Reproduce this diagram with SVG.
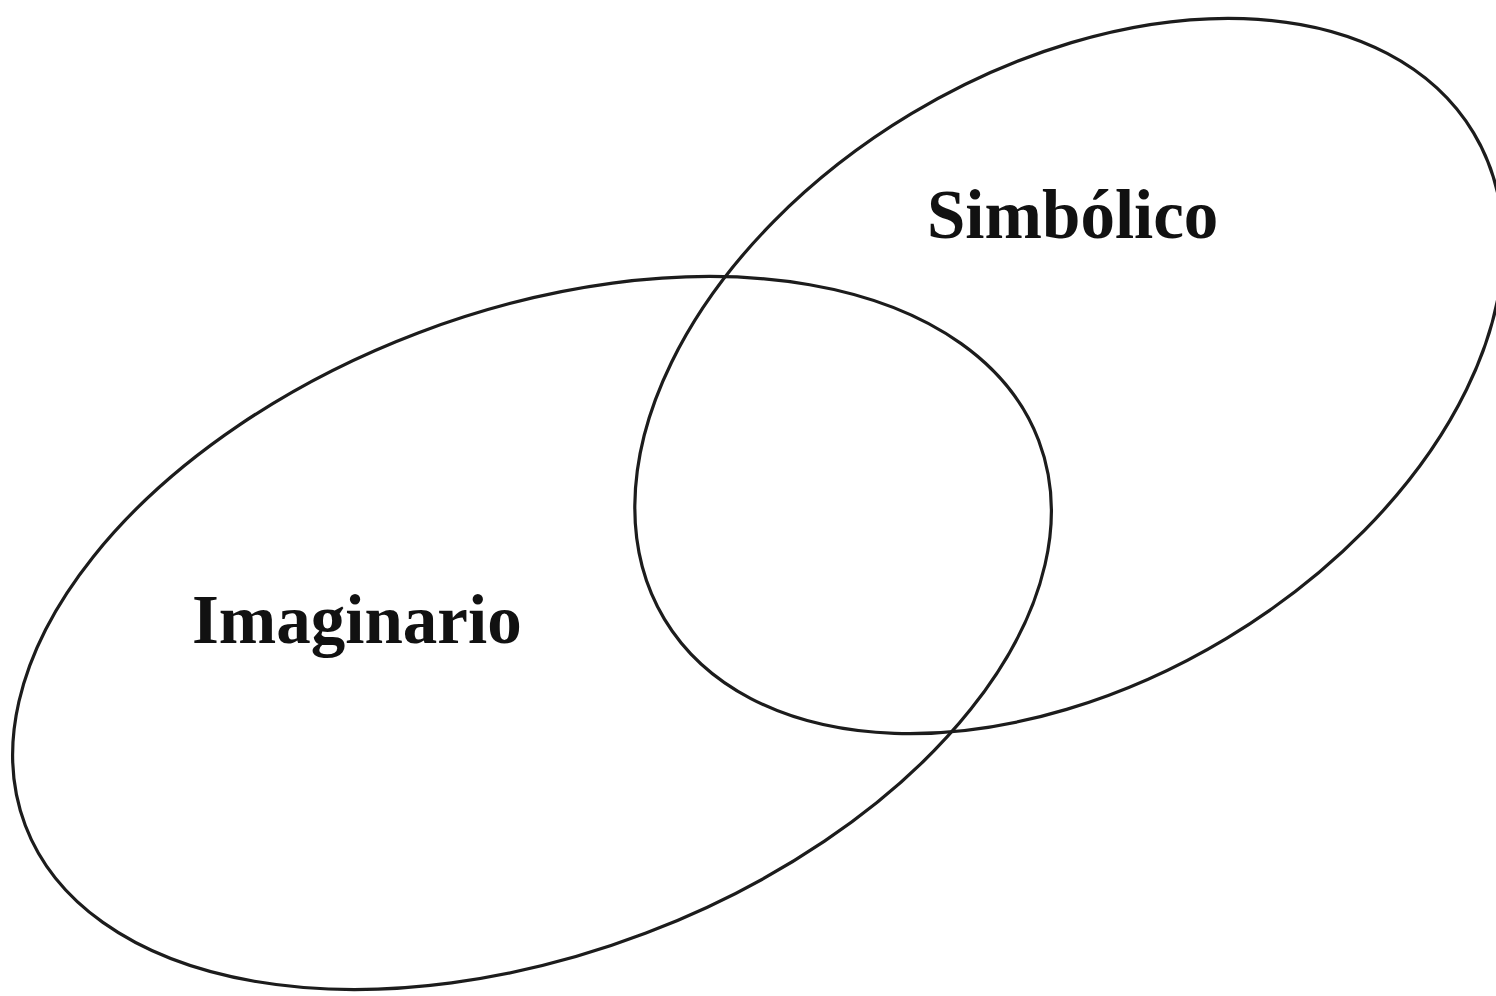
<svg xmlns="http://www.w3.org/2000/svg" width="1496" height="996" viewBox="0 0 1496 996">
  <style>
    .ring { fill: none; stroke: #1c1c1c; stroke-width: 3.2; }
    .label { font-family: "Liberation Serif", "Times New Roman", serif; font-weight: bold; font-size: 69px; fill: #111; }
  </style>
  <rect width="1496" height="996" fill="#ffffff"/>
  <g id="imaginario">
    <ellipse class="ring" cx="532" cy="633" rx="542" ry="321" transform="rotate(-20.8 532 633)"/>
    <text class="label" x="192" y="643">Imaginario</text>
  </g>
  <g id="simbolico">
    <ellipse class="ring" cx="1069" cy="376" rx="472" ry="306" transform="rotate(-31 1069 376)"/>
    <text class="label" x="927" y="238">Simbólico</text>
  </g>
  <g id="connectors"></g>
</svg>
